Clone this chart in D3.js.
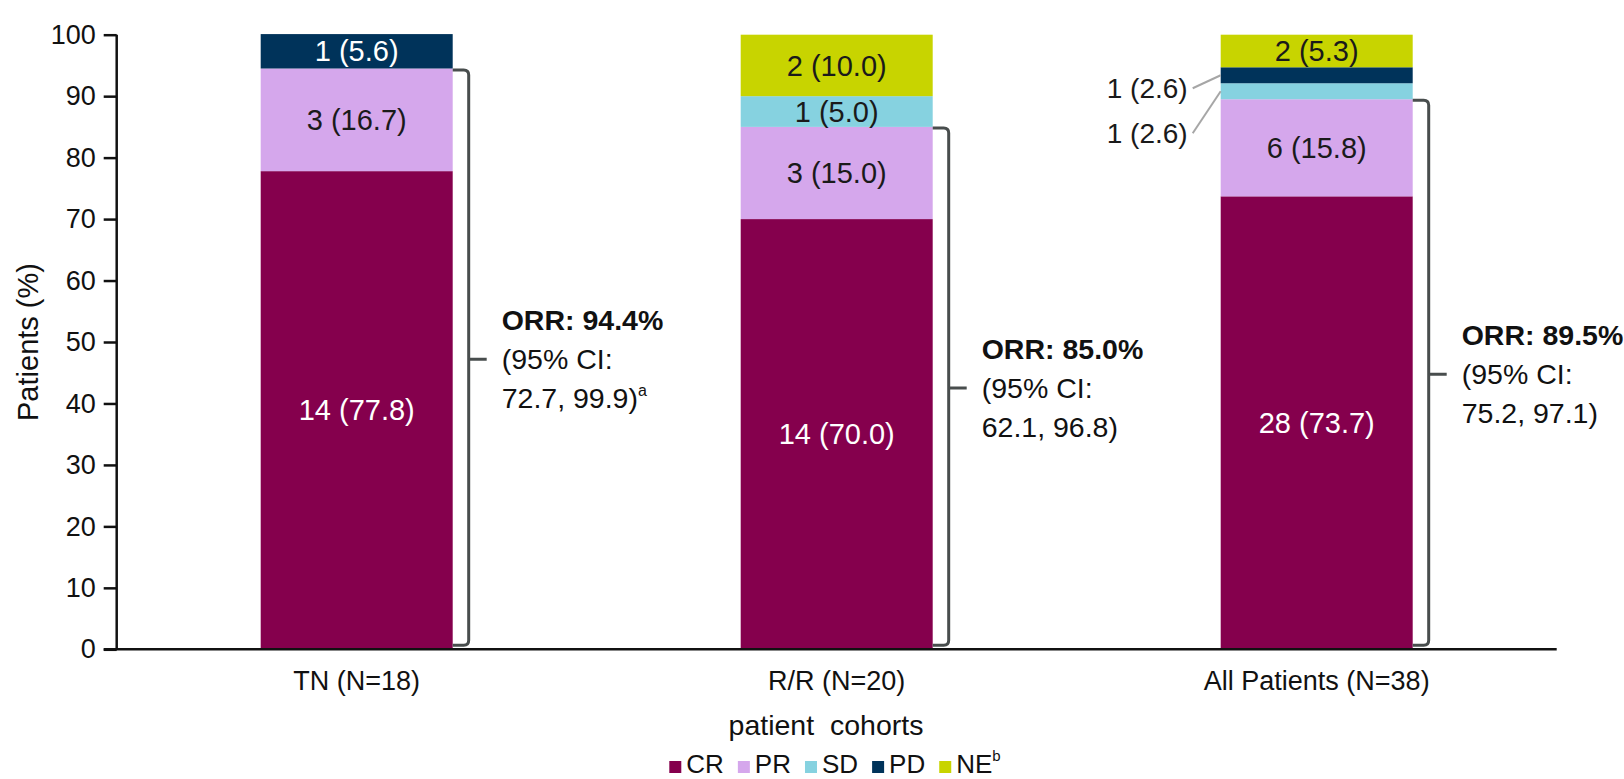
<!DOCTYPE html>
<html>
<head>
<meta charset="utf-8">
<script src="https://cdn.jsdelivr.net/npm/d3@7"></script>
<style>
  html, body { margin: 0; padding: 0; background: #ffffff; }
  svg { display: block; font-family: "Liberation Sans", Arial, Helvetica, sans-serif; }
</style>
</head>
<body>
<svg id="chart" width="1624" height="779"></svg>
<script>
// Cohorts along the x axis
const cohorts = ["TN (N=18)", "R/R (N=20)", "All Patients (N=38)"];

// Best response categories, stacked bottom to top
const responses = ["CR", "PR", "SD", "PD", "NE"];

// Number of patients per response, by cohort
const crCount = [14, 14, 28];
const prCount = [3, 3, 6];
const sdCount = [0, 1, 1];
const pdCount = [1, 0, 1];
const neCount = [0, 2, 2];

// Percentage of patients per response, by cohort
const crPct = [77.8, 70.0, 73.7];
const prPct = [16.7, 15.0, 15.8];
const sdPct = [0, 5.0, 2.6];
const pdPct = [5.6, 0, 2.6];
const nePct = [0, 10.0, 5.3];

// Overall response rate and 95% CI per cohort
const orrPct = [94.4, 85.0, 89.5];
const ciLow = ["72.7", "62.1", "75.2"];
const ciHigh = ["99.9", "96.8", "97.1"];
const ciNote = ["a", "", ""];

// Y axis ticks
const yTicks = [0, 10, 20, 30, 40, 50, 60, 70, 80, 90, 100];

const counts = { CR: crCount, PR: prCount, SD: sdCount, PD: pdCount, NE: neCount };
const pcts = { CR: crPct, PR: prPct, SD: sdPct, PD: pdPct, NE: nePct };

const colors = {
  CR: "#85004d",
  PR: "#d5a7ec",
  SD: "#86d2e0",
  PD: "#00335a",
  NE: "#c8d400"
};
const labelColors = { CR: "#ffffff", PR: "#1a1a1a", SD: "#1a1a1a", PD: "#ffffff", NE: "#1a1a1a" };

const rows = cohorts.map((c, i) => {
  const r = { cohort: c, index: i };
  responses.forEach(k => { r[k] = pcts[k][i]; });
  return r;
});

const svg = d3.select("#chart");
const plot = { left: 116.7, right: 1556.7, top: 34.7, bottom: 649.3 };

const x = d3.scaleBand()
  .domain(cohorts)
  .range([plot.left, plot.right])
  .paddingInner(0.6)
  .paddingOuter(0.3);

const y = d3.scaleLinear()
  .domain([0, 100])
  .range([plot.bottom, plot.top]);

const stacked = d3.stack().keys(responses)(rows);

// Stacked bars
const layers = svg.append("g").attr("class", "bars")
  .selectAll("g")
  .data(stacked)
  .join("g")
  .attr("fill", d => colors[d.key]);

layers.selectAll("rect")
  .data(d => d.map(v => ({ key: d.key, v })))
  .join("rect")
  .attr("x", d => x(d.v.data.cohort))
  .attr("width", x.bandwidth())
  .attr("y", d => y(d.v[1]))
  .attr("height", d => Math.max(0, y(d.v[0]) - y(d.v[1])));

// Segment value labels; thin segments in the last cohort use callouts
const calloutKeys = { 2: ["SD", "PD"] };
const calloutOffset = { PD: 13, SD: 42 };

const segLabels = [];
const callouts = [];
stacked.forEach(layer => {
  layer.forEach(v => {
    const i = v.data.index;
    const k = layer.key;
    if (pcts[k][i] <= 0) return;
    const text = `${counts[k][i]} (${pcts[k][i].toFixed(1)})`;
    const mid = (y(v[0]) + y(v[1])) / 2;
    if (calloutKeys[i] && calloutKeys[i].includes(k)) {
      callouts.push({ k, text, x0: x(v.data.cohort), mid });
    } else {
      segLabels.push({ k, text, cx: x(v.data.cohort) + x.bandwidth() / 2, mid });
    }
  });
});

svg.append("g").selectAll("text")
  .data(segLabels)
  .join("text")
  .attr("x", d => d.cx)
  .attr("y", d => d.mid)
  .attr("dy", "0.35em")
  .attr("text-anchor", "middle")
  .attr("font-size", 29)
  .attr("fill", d => labelColors[d.k])
  .text(d => d.text);

const co = svg.append("g").attr("class", "callouts");
callouts.forEach(d => {
  const ly = d.mid + calloutOffset[d.k];
  co.append("line")
    .attr("x1", d.x0 - 28).attr("y1", ly)
    .attr("x2", d.x0).attr("y2", d.mid)
    .attr("stroke", "#a6a6a6").attr("stroke-width", 2);
  co.append("text")
    .attr("x", d.x0 - 33)
    .attr("y", ly)
    .attr("dy", "0.35em")
    .attr("text-anchor", "end")
    .attr("font-size", 28)
    .attr("fill", "#1a1a1a")
    .text(d.text);
});

// ORR brackets and annotations
const br = svg.append("g").attr("class", "brackets");
cohorts.forEach((c, i) => {
  const x0 = x(c) + x.bandwidth();
  const bx = x0 + 16;
  const yt = y(orrPct[i]) + 1;
  const yb = y(0) - 4;
  const r = 5;
  const path = d3.path();
  path.moveTo(x0, yt);
  path.lineTo(bx - r, yt);
  path.quadraticCurveTo(bx, yt, bx, yt + r);
  path.lineTo(bx, yb - r);
  path.quadraticCurveTo(bx, yb, bx - r, yb);
  path.lineTo(x0, yb);
  const mid = (y(orrPct[i]) + y(0)) / 2;
  path.moveTo(bx, mid);
  path.lineTo(bx + 18, mid);
  br.append("path")
    .attr("d", path.toString())
    .attr("fill", "none")
    .attr("stroke", "#484d4d")
    .attr("stroke-width", 3);

  const tx = bx + 33;
  br.append("text")
    .attr("x", tx).attr("y", mid - 39).attr("dy", "0.35em")
    .attr("font-size", 28.5).attr("font-weight", "bold").attr("fill", "#111")
    .text(`ORR: ${orrPct[i].toFixed(1)}%`);
  br.append("text")
    .attr("x", tx).attr("y", mid).attr("dy", "0.35em")
    .attr("font-size", 28.5).attr("fill", "#111")
    .text("(95% CI:");
  const t3 = br.append("text")
    .attr("x", tx).attr("y", mid + 39).attr("dy", "0.35em")
    .attr("font-size", 28.5).attr("fill", "#111")
    .text(`${ciLow[i]}, ${ciHigh[i]})`);
  if (ciNote[i]) {
    t3.append("tspan")
      .attr("font-size", 16)
      .attr("dy", "-0.75em")
      .text(ciNote[i]);
  }
});

// Y axis
const yAxis = svg.append("g")
  .attr("transform", `translate(${plot.left},0)`)
  .call(d3.axisLeft(y).tickValues(yTicks).tickSize(13).tickPadding(8).tickFormat(d3.format("d")));
yAxis.select(".domain").attr("stroke", "#111").attr("stroke-width", 2.5).attr("d", `M0,${plot.bottom}V${plot.top}`);
yAxis.selectAll(".tick line").attr("stroke", "#111").attr("stroke-width", 2.5);
yAxis.selectAll(".tick text").attr("font-size", 27).attr("fill", "#111").attr("font-family", "Liberation Sans, Arial, sans-serif");

// X axis
const xAxis = svg.append("g")
  .attr("transform", `translate(0,${plot.bottom})`)
  .call(d3.axisBottom(x).tickSize(0).tickPadding(22));
xAxis.select(".domain").attr("stroke", "#111").attr("stroke-width", 2.5)
  .attr("d", `M${plot.left - 13},0H${plot.right}`);
xAxis.selectAll(".tick text").attr("font-size", 27).attr("fill", "#111")
  .attr("font-family", "Liberation Sans, Arial, sans-serif")
  .attr("dy", "0.71em");

// Axis titles
svg.append("text")
  .attr("transform", `translate(28,${(plot.top + plot.bottom) / 2}) rotate(-90)`)
  .attr("text-anchor", "middle")
  .attr("dy", "0.35em")
  .attr("font-size", 29)
  .attr("fill", "#111")
  .text("Patients (%)");

svg.append("text")
  .attr("x", 826)
  .attr("y", 725)
  .attr("dy", "0.35em")
  .attr("text-anchor", "middle")
  .attr("font-size", 28.5)
  .attr("fill", "#111")
  .style("white-space", "pre")
  .text("patient  cohorts");

// Legend
const legend = svg.append("g").attr("class", "legend");
let lx = 0;
responses.forEach(k => {
  const g = legend.append("g").attr("transform", `translate(${lx},0)`);
  g.append("rect").attr("x", 0).attr("y", -12).attr("width", 12).attr("height", 12).attr("fill", colors[k]);
  const t = g.append("text").attr("x", 17).attr("y", 0).attr("font-size", 26).attr("fill", "#111").text(k);
  if (k === "NE") {
    t.append("tspan").attr("font-size", 15).attr("dy", "-0.8em").text("b");
  }
  lx += 17 + t.node().getComputedTextLength() + 14;
});
const legendWidth = lx - 14;
legend.attr("transform", `translate(${835 - legendWidth / 2},773)`);
</script>
</body>
</html>
